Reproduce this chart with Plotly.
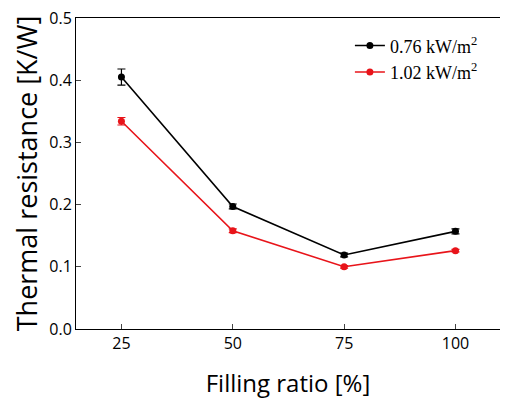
import plotly.graph_objects as go

filling_ratio = [25, 50, 75, 100]
r_076 = [0.405, 0.197, 0.119, 0.157]
err_076 = [0.013, 0.004, 0.003, 0.004]
r_102 = [0.334, 0.158, 0.100, 0.126]
err_102 = [0.006, 0.003, 0.002, 0.002]
names = ["0.76 kW/m<sup>2</sup>", "1.02 kW/m<sup>2</sup>"]
y_ticks = [0.0, 0.1, 0.2, 0.3, 0.4, 0.5]

fig = go.Figure()
fig.add_trace(go.Scatter(
    x=filling_ratio, y=r_076, name=names[0], mode="lines+markers",
    line=dict(color="black", width=1.6), marker=dict(color="black", size=7),
    error_y=dict(type="data", array=err_076, color="black", thickness=1.2, width=4)))
fig.add_trace(go.Scatter(
    x=filling_ratio, y=r_102, name=names[1], mode="lines+markers",
    line=dict(color="#e8141a", width=1.6), marker=dict(color="#e8141a", size=7),
    error_y=dict(type="data", array=err_102, color="#e8141a", thickness=1.2, width=4)))

fig.update_layout(
    width=500, height=397,
    margin=dict(l=68, r=8, t=10, b=76),
    paper_bgcolor="white", plot_bgcolor="white",
    font=dict(family="Open Sans, Liberation Sans, sans-serif", color="black"),
    legend=dict(x=0.646, y=0.97, xanchor="left", yanchor="top",
                font=dict(family="Liberation Serif, serif", size=18),
                bgcolor="rgba(0,0,0,0)"),
    xaxis=dict(range=[14.8, 110], tickvals=filling_ratio, ticks="inside", ticklen=5,
               showline=True, linecolor="black", linewidth=1, mirror=True, automargin=False,
               showgrid=False, zeroline=False, tickfont=dict(size=16), ticklabeloverflow="allow",
               title=dict(text="Filling ratio [%]", font=dict(size=24), standoff=21)),
    yaxis=dict(range=[0, 0.5], tickvals=y_ticks, tickformat=".1f", ticks="inside", ticklen=5,
               showline=True, linecolor="black", linewidth=1, mirror=True, automargin=False,
               showgrid=False, zeroline=False, tickfont=dict(size=16), ticklabeloverflow="allow",
               title=dict(text="Thermal resistance [K/W]", font=dict(size=27), standoff=12)),
)

fig.write_html("out.html")
